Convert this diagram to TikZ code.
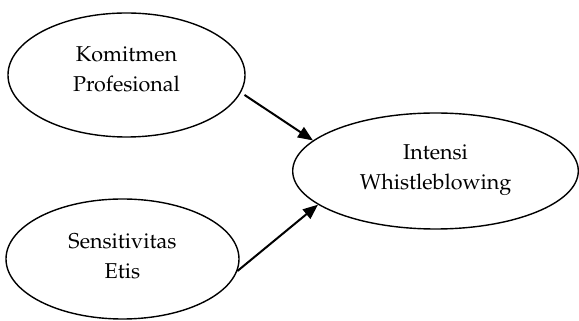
\documentclass[tikz,border=0pt]{standalone}
\usepackage[T1]{fontenc}
\usepackage{mathpazo}
\usetikzlibrary{shapes.geometric,arrows.meta}
\begin{document}
\begin{tikzpicture}[x=1pt,y=1pt,
  oval/.style={ellipse,draw=black,line width=1.4pt,inner sep=0pt,align=center,
    font=\fontsize{21.5}{30}\selectfont},
  link/.style={line width=2pt,-{Triangle[length=15pt,width=12pt]}}]
\useasboundingbox (0,0) rectangle (579,321);
\node[oval,minimum width=237pt,minimum height=124pt,text depth=12pt] (k) at (126.5,246) {Komitmen\\Profesional};
\node[oval,minimum width=233pt,minimum height=120pt,text depth=5pt] (s) at (122.5,62) {Sensitivitas\\Etis};
\node[oval,minimum width=285.6pt,minimum height=116pt,text depth=7pt] (w) at (435.5,150) {Intensi\\Whistleblowing};
\draw[link] ([xshift=5pt]k.-10) -- (w.166);
\draw[link] (s.-6) -- (w.196);
\end{tikzpicture}
\end{document}
